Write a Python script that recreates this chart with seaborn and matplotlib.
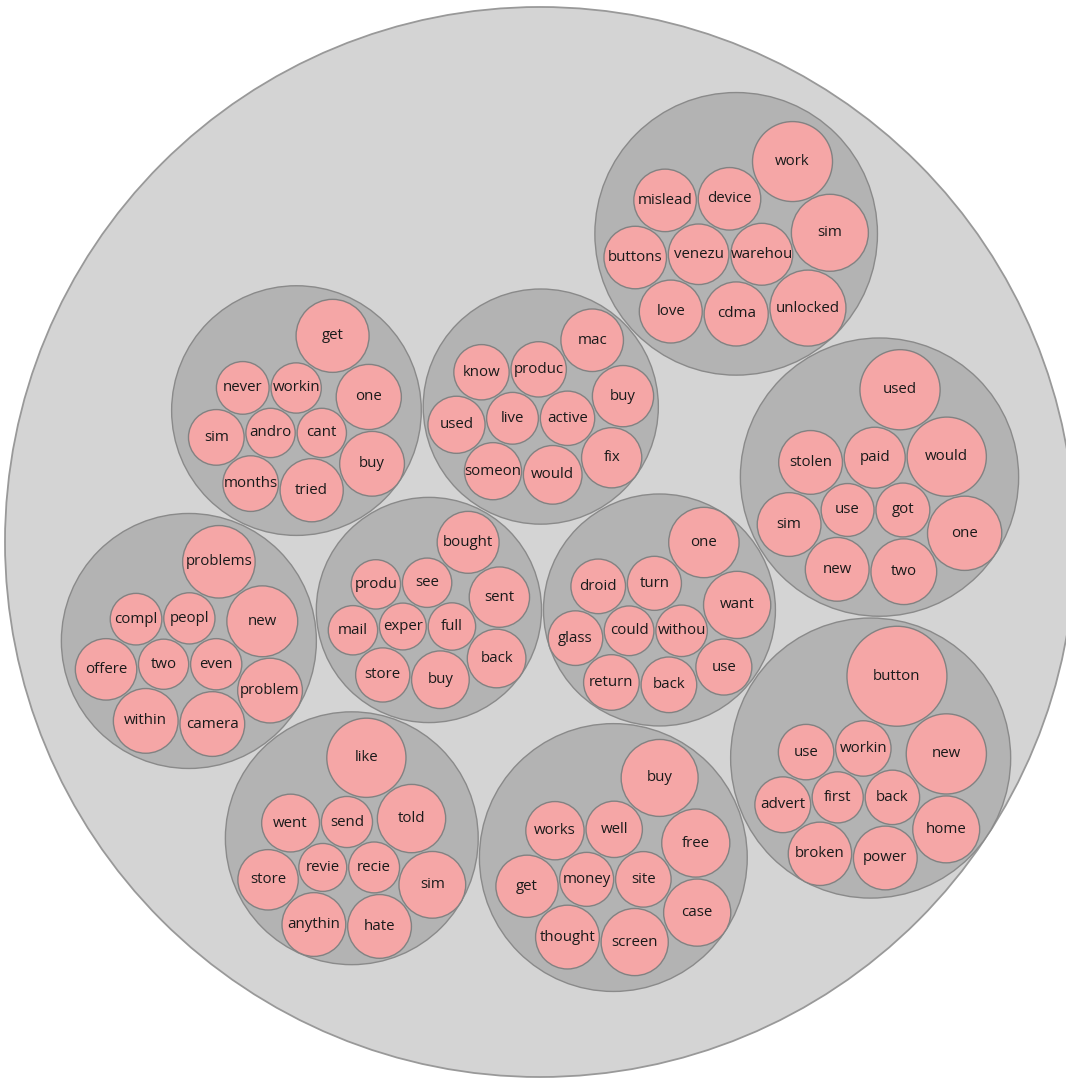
import math
import matplotlib
matplotlib.use("Agg")
import matplotlib.pyplot as plt
from matplotlib.patches import Circle
import seaborn as sns

# word weights per cluster (listed smallest first; equal weights keep list order)
bought_words = ["exper", "full", "see", "produ", "mail", "store", "buy", "back", "sent", "bought"]
bought_weights = [5.60, 5.73, 6.21, 6.21, 6.21, 7.49, 8.48, 8.77, 9.29, 9.78]

one_words = ["could", "withou", "turn", "droid", "glass", "return", "back", "use", "want", "one"]
one_weights = [6.30, 6.76, 7.45, 7.61, 7.61, 7.89, 7.89, 8.00, 11.52, 12.63]

mac_words = ["live", "active", "produc", "know", "used", "someon", "would", "fix", "buy", "mac"]
mac_weights = [6.84, 7.54, 7.81, 7.81, 8.32, 8.32, 8.78, 9.25, 9.56, 9.98]

get_words = ["andro", "cant", "workin", "never", "sim", "months", "tried", "buy", "one", "get"]
get_weights = [6.20, 6.20, 6.45, 7.08, 7.90, 7.90, 10.18, 10.70, 10.83, 13.60]

problems_words = ["two", "even", "peopl", "compl", "offere", "within", "camera", "problem", "new", "problems"]
problems_weights = [6.42, 6.69, 6.69, 6.79, 9.63, 10.69, 10.69, 10.69, 12.81, 13.41]

like_words = ["revie", "recie", "send", "went", "store", "anythin", "hate", "sim", "told", "like"]
like_weights = [5.86, 6.60, 6.66, 8.53, 9.30, 10.37, 10.37, 11.36, 11.90, 16.00]

buy_words = ["money", "site", "well", "works", "get", "thought", "screen", "case", "free", "buy"]
buy_weights = [7.43, 7.87, 8.10, 8.67, 9.88, 10.38, 11.50, 11.50, 11.83, 15.11]

button_words = ["first", "back", "workin", "use", "advert", "broken", "power", "home", "new", "button"]
button_weights = [6.66, 7.56, 7.84, 7.84, 7.95, 10.24, 10.37, 11.42, 16.40, 25.50]

used_words = ["use", "got", "paid", "stolen", "sim", "new", "two", "one", "would", "used"]
used_weights = [7.13, 7.40, 9.49, 10.37, 10.37, 10.37, 11.02, 14.06, 16.00, 16.40]

work_words = ["venezu", "warehou", "device", "mislead", "buttons", "love", "cdma", "unlocked", "sim", "work"]
work_weights = [9.35, 9.78, 9.97, 9.97, 9.97, 10.10, 10.48, 14.74, 15.12, 16.32]

clusters = [
    (bought_words, bought_weights), (one_words, one_weights), (mac_words, mac_weights),
    (get_words, get_weights), (problems_words, problems_weights), (like_words, like_weights),
    (buy_words, buy_weights), (button_words, button_weights), (used_words, used_weights),
    (work_words, work_weights),
]


# --- front-chain circle packing (same scheme as the old d3 pack layout) ---
class Node:
    def __init__(self, value, label=None):
        self.value = value
        self.label = label
        self.r = math.sqrt(value)
        self.x = 0.0
        self.y = 0.0
        self.children = []
        self.nxt = self
        self.prv = self


def place(a, b, c):
    db = a.r + c.r
    dx = b.x - a.x
    dy = b.y - a.y
    if db and (dx or dy):
        da = (b.r + c.r) ** 2
        dc = dx * dx + dy * dy
        db = db * db
        x = 0.5 + (db - da) / (2 * dc)
        y = math.sqrt(max(0.0, 2 * da * (db + dc) - (db - dc) ** 2 - da * da)) / (2 * dc)
        c.x = a.x + x * dx + y * dy
        c.y = a.y + x * dy - y * dx
    else:
        c.x = a.x + db
        c.y = a.y


def intersects(a, b):
    dx = b.x - a.x
    dy = b.y - a.y
    dr = a.r + b.r
    return 0.999 * dr * dr > dx * dx + dy * dy


def insert(a, b):
    c = a.nxt
    a.nxt = b
    b.prv = a
    b.nxt = c
    c.prv = b


def splice(a, b):
    a.nxt = b
    b.prv = a


def pack_siblings(parent):
    nodes = parent.children
    for nd in nodes:
        nd.nxt = nd.prv = nd
    box = [math.inf, -math.inf, math.inf, -math.inf]

    def bound(nd):
        box[0] = min(box[0], nd.x - nd.r)
        box[1] = max(box[1], nd.x + nd.r)
        box[2] = min(box[2], nd.y - nd.r)
        box[3] = max(box[3], nd.y + nd.r)

    n = len(nodes)
    a = nodes[0]
    a.x, a.y = -a.r, 0.0
    bound(a)
    if n > 1:
        b = nodes[1]
        b.x, b.y = b.r, 0.0
        bound(b)
        if n > 2:
            c = nodes[2]
            place(a, b, c)
            bound(c)
            insert(a, c)
            insert(c, b)
            b = a.nxt
            i = 3
            while i < n:
                c = nodes[i]
                place(a, b, c)
                isect = False
                s1 = s2 = 1
                j = b.nxt
                while j is not b:
                    if intersects(j, c):
                        isect = True
                        break
                    j = j.nxt
                    s1 += 1
                if isect:
                    k = a.prv
                    while k is not j.prv:
                        if intersects(k, c):
                            break
                        k = k.prv
                        s2 += 1
                    if s1 < s2 or (s1 == s2 and b.r < a.r):
                        b = j
                    else:
                        a = k
                    splice(a, b)
                else:
                    insert(a, c)
                    b = c
                    bound(c)
                    i += 1

    cx = (box[0] + box[1]) / 2
    cy = (box[2] + box[3]) / 2
    cr = 0.0
    for nd in nodes:
        nd.x -= cx
        nd.y -= cy
        cr = max(cr, nd.r + math.hypot(nd.x, nd.y))
    parent.r = cr


def pack_all(root):
    for g in root.children:
        pack_siblings(g)
    pack_siblings(root)


W, H = 1066, 1080
ROOT_CX, ROOT_CY, ROOT_R = 540, 542, 535   # where the outer circle sits, in pixels
PADDING = 2                                 # gap between neighbouring circles, px

root = Node(1.0)
for words, weights in clusters:
    g = Node(sum(weights))
    leaves = [Node(w, lab) for lab, w in zip(words, weights)]
    g.children = sorted(leaves, key=lambda nd: nd.value)
    root.children.append(g)
root.children.sort(key=lambda nd: nd.value)

pack_all(root)
dr = PADDING * root.r / (2 * ROOT_R)
for g in root.children:
    for lf in g.children:
        lf.r += dr
pack_all(root)
for g in root.children:
    g.r -= dr
    for lf in g.children:
        lf.r -= dr
root.r -= dr

# --- drawing ---
sns.set_theme(style="white")
plt.rcParams["font.family"] = ["Open Sans", "DejaVu Sans"]

s = ROOT_R / root.r

fig = plt.figure(figsize=(W / 100, H / 100), dpi=100, facecolor="white")
ax = fig.add_axes([0, 0, 1, 1])
ax.set_xlim(-ROOT_CX / s, (W - ROOT_CX) / s)
ax.set_ylim((H - ROOT_CY) / s, -ROOT_CY / s)
ax.axis("off")

ax.add_patch(Circle((0, 0), root.r, facecolor="#d4d4d4", edgecolor="#999999", lw=1.3, zorder=1))
for g in root.children:
    ax.add_patch(Circle((g.x, g.y), g.r, facecolor="#b3b3b3", edgecolor="#8a8a8a", lw=1.0, zorder=2))
    for lf in g.children:
        x, y = g.x + lf.x, g.y + lf.y
        ax.add_patch(Circle((x, y), lf.r, facecolor="#f5a6a6", edgecolor="#828282", lw=1.0, zorder=3))
        ax.text(x, y, lf.label, ha="center", va="center", fontsize=10.8,
                color="#1a1a1a", zorder=4)

fig.savefig("out.png", dpi=100, facecolor="white")
